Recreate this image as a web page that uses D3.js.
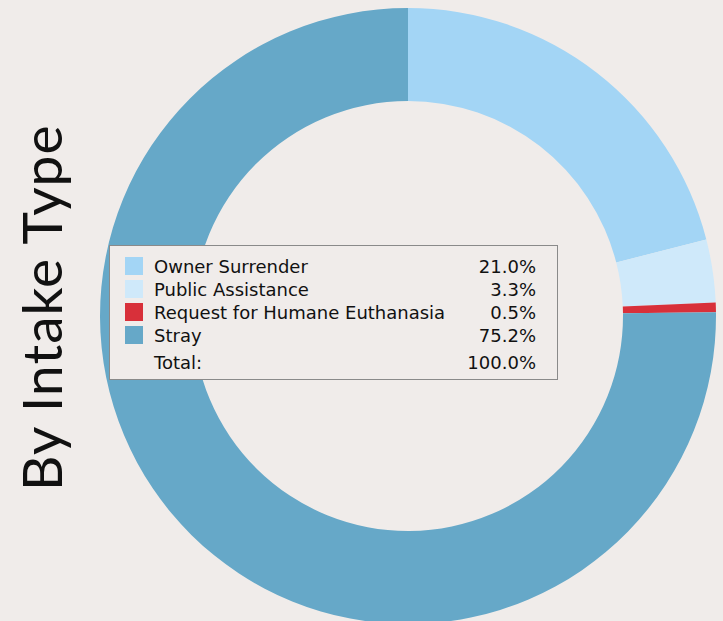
<!DOCTYPE html>
<html>
<head>
<meta charset="utf-8">
<script src="https://cdn.jsdelivr.net/npm/d3@7"></script>
<style>
  html, body { margin: 0; padding: 0; background: #f0ecea; overflow: hidden; }
  svg { display: block; }
</style>
</head>
<body>
<script>
(function(){
// chart data
var categories = ["Owner Surrender", "Public Assistance", "Request for Humane Euthanasia", "Stray"];
var shares = [21.0, 3.3, 0.5, 75.2];
var colors = ["#a3d5f5", "#cfe9fa", "#d8303a", "#66a8c8"];
var totalLabel = "Total:";
var title = "By Intake Type";

var w = 723, h = 621;
var cx = 408, cy = 316, outerR = 308, innerR = 215;
var legendFont = "'DejaVu Sans', Verdana, sans-serif";
var legendSize = 18;

var svg = d3.select("body").append("svg")
  .attr("width", w)
  .attr("height", h);

svg.append("rect").attr("width", w).attr("height", h).attr("fill", "#f0ecea");

//donut
var pie = d3.pie().sort(null).value(function(d){ return d; });
var arc = d3.arc().innerRadius(innerR).outerRadius(outerR);

svg.append("g")
  .attr("transform", "translate(" + cx + "," + cy + ")")
  .selectAll("path")
  .data(pie(shares))
  .enter()
  .append("path")
  .attr("d", arc)
  .attr("fill", function(d, i){ return colors[i]; });

//rotated title
svg.append("text")
  .attr("transform", "translate(62,491) rotate(-90)")
  .attr("font-family", "Lato, 'Open Sans', sans-serif")
  .attr("font-weight", 400)
  .attr("font-size", 55)
  .attr("letter-spacing", 1.5)
  .attr("textLength", 367)
  .attr("lengthAdjust", "spacing")
  .attr("fill", "#111")
  .text(title);

//legend
var lx = 109.5, ly = 245.5, lw = 448, lh = 134;
var legend = svg.append("g");
legend.append("rect")
  .attr("x", lx).attr("y", ly)
  .attr("width", lw).attr("height", lh)
  .attr("fill", "#f0ecea")
  .attr("stroke", "#8a8a8a")
  .attr("stroke-width", 1);

var rowY = d3.scaleLinear().domain([0, 1]).range([273, 296]);
var fmt = function(v){ return v.toFixed(1) + "%"; };

var rows = legend.selectAll(".row")
  .data(categories)
  .enter()
  .append("g")
  .attr("class", "row");

rows.append("rect")
  .attr("x", 125).attr("y", function(d, i){ return rowY(i) - 16; })
  .attr("width", 18).attr("height", 18)
  .attr("fill", function(d, i){ return colors[i]; });

rows.append("text")
  .attr("x", 154).attr("y", function(d, i){ return rowY(i); })
  .attr("font-family", legendFont)
  .attr("font-size", legendSize)
  .attr("fill", "#111")
  .text(function(d){ return d; });

rows.append("text")
  .attr("x", 536).attr("y", function(d, i){ return rowY(i); })
  .attr("text-anchor", "end")
  .attr("font-family", legendFont)
  .attr("font-size", legendSize)
  .attr("fill", "#111")
  .text(function(d, i){ return fmt(shares[i]); });

var total = d3.sum(shares);
legend.append("text")
  .attr("x", 154).attr("y", rowY(4) + 4)
  .attr("font-family", legendFont)
  .attr("font-size", legendSize).attr("fill", "#111")
  .text(totalLabel);
legend.append("text")
  .attr("x", 536).attr("y", rowY(4) + 4)
  .attr("text-anchor", "end")
  .attr("font-family", legendFont)
  .attr("font-size", legendSize).attr("fill", "#111")
  .text(fmt(total));
})();
</script>
</body>
</html>
